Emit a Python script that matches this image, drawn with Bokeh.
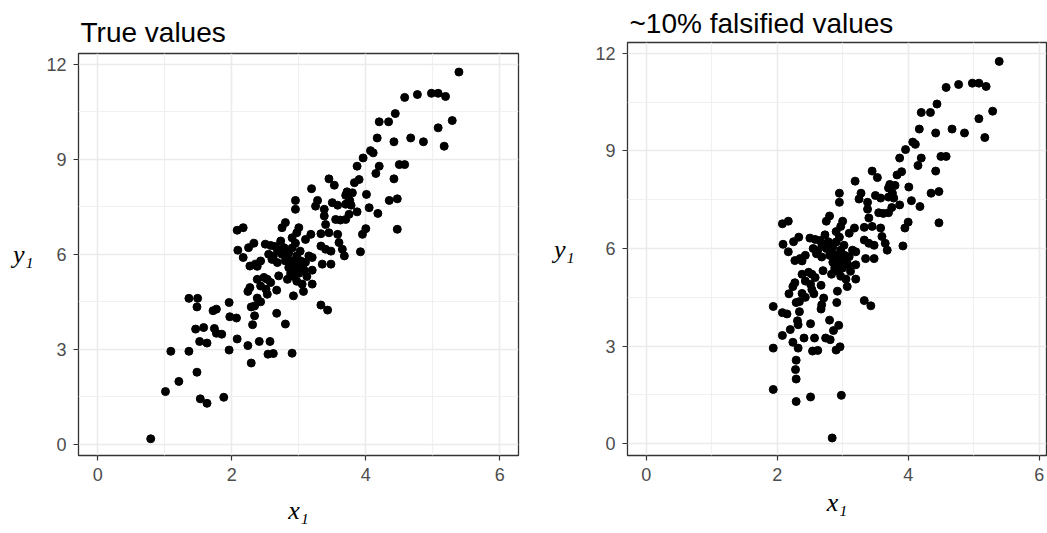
from bokeh.plotting import figure
from bokeh.models import FixedTicker, Range1d, ColumnDataSource
from bokeh.layouts import row, column
from bokeh.embed import file_html
from bokeh.resources import INLINE

# ---------------- data ----------------
x_true = [5.39, 4.58, 4.77, 4.98, 5.08, 5.19, 4.44, 4.20, 4.34, 5.29,
          5.08, 4.17, 4.67, 4.42, 4.86, 5.17, 4.07, 4.11, 3.96, 3.87,
          4.20, 4.50, 4.58, 4.15, 4.42, 3.90, 3.83, 3.45, 3.53, 3.19,
          3.72, 3.80, 3.70, 4.01, 2.95, 2.95, 3.28, 3.25, 3.50, 3.58,
          4.35, 4.47, 3.74, 3.78, 3.70, 3.76, 3.38, 4.05, 3.87, 4.18,
          3.38, 3.40, 3.55, 3.62, 3.70, 3.75, 4.47, 4.00, 3.95, 2.80,
          2.75, 3.00, 2.97, 2.90, 3.18, 3.10, 3.33, 3.45, 3.58, 3.60,
          3.33, 3.40, 3.48, 3.65, 3.68, 3.92, 3.15, 3.20, 3.35, 3.48,
          3.20, 3.08, 3.20, 3.05, 3.07, 2.92, 3.33, 3.43, 2.80, 2.90,
          2.67, 2.08, 2.17, 2.09, 2.17, 2.25, 2.33, 2.27, 2.35, 2.43,
          2.38, 2.50, 2.58, 2.68, 2.78, 2.73, 2.60, 2.68, 2.70, 2.85,
          2.88, 2.93, 2.98, 3.03, 2.83, 2.80, 2.38, 2.48, 2.53, 2.43,
          2.51, 2.53, 2.27, 2.24, 2.58, 2.67, 2.38, 2.43, 2.34, 2.29,
          2.34, 2.31, 2.24, 2.41, 2.29, 2.57, 2.54, 2.62, 2.08, 2.90,
          2.95, 2.87, 2.92, 3.00, 2.97, 2.85, 2.90, 2.95, 3.02, 2.88,
          2.93, 3.00, 3.06, 2.83, 2.75, 2.65, 2.70, 2.62, 2.55, 3.10,
          3.12, 2.97, 0.79, 1.01, 1.21, 1.48, 1.53, 1.63, 1.88, 1.09,
          1.36, 1.96, 1.52, 1.63, 1.46, 1.58, 1.74, 1.77, 1.85, 1.72,
          1.77, 1.48, 1.36, 1.49, 1.96, 1.97, 2.07]

y_vals = [11.75, 10.95, 11.04, 11.08, 11.08, 10.98, 10.44, 10.18, 10.18, 10.22,
          9.99, 9.67, 9.67, 9.55, 9.55, 9.41, 9.27, 9.20, 9.04, 8.78,
          8.78, 8.83, 8.83, 8.55, 8.38, 8.36, 8.26, 8.38, 8.18, 8.07,
          7.97, 7.94, 7.86, 7.89, 7.70, 7.42, 7.70, 7.52, 7.63, 7.55,
          7.70, 7.75, 7.62, 7.55, 7.58, 7.70, 7.42, 7.47, 7.34, 7.29,
          7.21, 6.94, 7.10, 7.08, 7.10, 7.26, 6.79, 6.81, 6.63, 7.00,
          6.84, 6.84, 6.68, 6.52, 6.63, 6.47, 6.65, 6.68, 6.63, 6.37,
          6.26, 6.16, 6.10, 6.16, 5.95, 6.08, 5.95, 5.90, 5.69, 5.69,
          5.50, 5.50, 5.06, 5.06, 4.83, 4.69, 4.40, 4.24, 3.80, 2.88,
          4.14, 6.76, 6.84, 6.13, 5.90, 6.21, 6.35, 5.63, 5.69, 5.79,
          5.62, 6.32, 6.28, 6.16, 6.21, 6.42, 5.84, 5.74, 5.32, 5.58,
          5.42, 5.69, 5.84, 5.79, 5.21, 5.79, 5.21, 5.27, 5.21, 5.00,
          4.90, 4.74, 4.95, 4.83, 5.11, 4.87, 4.62, 4.50, 4.37, 4.34,
          4.06, 3.78, 3.12, 3.25, 2.57, 3.25, 2.85, 2.87, 3.33, 5.60,
          5.50, 5.70, 5.80, 5.65, 5.95, 6.05, 6.20, 6.35, 6.10, 5.35,
          5.30, 5.40, 5.55, 5.90, 6.00, 6.25, 6.10, 5.95, 6.00, 5.75,
          5.30, 5.15, 0.18, 1.67, 1.99, 2.28, 1.44, 1.30, 1.49, 2.94,
          2.94, 2.98, 3.25, 3.20, 3.64, 3.69, 3.66, 3.51, 3.48, 4.22,
          4.27, 4.34, 4.61, 4.61, 4.48, 4.03, 3.99]

x_falsified = [5.39, 4.58, 4.77, 4.98, 5.08, 5.19, 4.44, 4.20, 4.34, 5.29,
               5.08, 4.17, 4.67, 4.42, 4.86, 5.17, 4.07, 4.11, 3.96, 3.87,
               4.20, 4.50, 4.58, 4.15, 4.42, 3.90, 3.83, 3.45, 3.53, 3.19,
               3.72, 3.80, 3.70, 4.01, 2.95, 2.95, 3.28, 3.25, 3.50, 3.58,
               4.35, 4.47, 3.74, 3.78, 3.70, 3.76, 3.38, 4.05, 3.87, 4.18,
               3.38, 3.40, 3.55, 3.62, 3.70, 3.75, 4.47, 4.00, 3.95, 2.80,
               2.75, 3.00, 2.97, 2.90, 3.18, 3.10, 3.33, 3.45, 3.58, 3.60,
               3.33, 3.40, 3.48, 3.65, 3.68, 3.92, 3.15, 3.20, 3.35, 3.48,
               3.20, 3.08, 3.20, 3.05, 3.07, 2.92, 3.33, 3.43, 2.80, 2.90,
               2.67, 2.08, 2.17, 2.09, 2.17, 2.25, 2.33, 2.27, 2.35, 2.43,
               2.38, 2.50, 2.58, 2.68, 2.78, 2.73, 2.60, 2.68, 2.70, 2.85,
               2.88, 2.93, 2.98, 3.03, 2.83, 2.80, 2.38, 2.48, 2.53, 2.43,
               2.51, 2.53, 2.27, 2.24, 2.58, 2.67, 2.38, 2.43, 2.34, 2.29,
               2.34, 2.31, 2.24, 2.41, 2.29, 2.57, 2.54, 2.62, 2.08, 2.90,
               2.95, 2.87, 2.92, 3.00, 2.97, 2.85, 2.90, 2.95, 3.02, 2.88,
               2.93, 3.00, 3.06, 2.83, 2.75, 2.65, 2.70, 2.62, 2.55, 3.10,
               3.12, 2.97, 2.84, 1.94, 2.29, 2.28, 2.51, 2.29, 2.98, 1.94,
               2.32, 2.96, 2.74, 2.81, 2.94, 2.51, 2.32, 2.20, 2.86, 1.94,
               2.68, 2.91, 2.18, 2.56, 2.71, 2.08, 2.15]

x_ticks = [0, 2, 4, 6]
x_minor = [1, 3, 5]
y_ticks = [0, 3, 6, 9, 12]
y_minor = [1.5, 4.5, 7.5, 10.5]
titles = ["True values", "~10% falsified values"]
x_label = "x\u2081"
y_label = "y\u2081"


def make_panel(xs, title, width, b_left, b_right, b_top, xr, yr,
               title_standoff, xlab_standoff, ylab_standoff):
    p = figure(width=width, height=533, output_backend="svg", toolbar_location=None,
               x_range=Range1d(*xr), y_range=Range1d(*yr),
               min_border_left=b_left, min_border_right=b_right,
               min_border_top=b_top, min_border_bottom=78)
    p.background_fill_color = "white"
    p.border_fill_color = "white"
    p.outline_line_color = "#333333"
    p.outline_line_width = 1.3

    p.title.text = title
    p.title.text_font = "Liberation Sans"
    p.title.text_font_size = "28px"
    p.title.text_font_style = "normal"
    p.title.text_color = "black"
    p.title.align = "left"
    p.title.offset = 2
    p.title.standoff = title_standoff

    for ax, ticks, minor in ((p.xaxis[0], x_ticks, x_minor), (p.yaxis[0], y_ticks, y_minor)):
        ax.ticker = FixedTicker(ticks=ticks, minor_ticks=minor)
        ax.axis_line_color = None
        ax.major_tick_line_color = "#333333"
        ax.major_tick_line_width = 1.2
        ax.major_tick_out = 5
        ax.major_tick_in = 0
        ax.minor_tick_line_color = None
        ax.major_label_text_font = "Liberation Sans"
        ax.major_label_text_font_size = "18px"
        ax.major_label_text_color = "#4d4d4d"
        ax.major_label_standoff = 7
        ax.axis_label_text_font = "Liberation Serif"
        ax.axis_label_text_font_style = "italic"
        ax.axis_label_text_font_size = "26px"
        ax.axis_label_text_color = "black"

    xa = p.xaxis[0]
    xa.axis_label = x_label
    xa.axis_label_standoff = xlab_standoff

    ya = p.yaxis[0]
    ya.axis_label = y_label
    ya.axis_label_standoff = ylab_standoff
    try:
        ya.axis_label_orientation = "horizontal"
    except Exception:
        pass

    p.grid.grid_line_color = "#ebebeb"
    p.grid.grid_line_width = 1.6
    p.grid.minor_grid_line_color = "#f0f0f0"
    p.grid.minor_grid_line_width = 1.2

    src = ColumnDataSource(dict(x=xs, y=y_vals))
    p.scatter("x", "y", source=src, marker="circle", size=8,
              fill_color="black", line_color="black")
    return p


p1 = make_panel(x_true, titles[0], 545, 78, 27, 53,
                (-0.288, 6.279), (-0.347, 12.335), 12, 12, 10)
p2 = make_panel(x_falsified, titles[1], 502, 82, 1, 42,
                (-0.285, 6.112), (-0.359, 12.33), 7, 4, 18)

layout = row(column(p1), column(p2))
open("out.html", "w").write(file_html(layout, INLINE))
